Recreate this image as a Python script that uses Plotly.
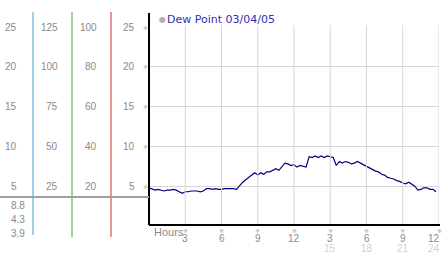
import plotly.graph_objects as go

# ---- data ----
hours = [i * 0.25 for i in range(96)]
dew_point = [
    4.8, 4.6, 4.5, 4.6, 4.5, 4.4, 4.5, 4.5, 4.6, 4.5, 4.3, 4.1,
    4.3, 4.3, 4.4, 4.4, 4.4, 4.3, 4.4, 4.7, 4.7, 4.6, 4.7, 4.6,
    4.6, 4.7, 4.7, 4.7, 4.7, 4.6, 5.1, 5.5, 5.8, 6.1, 6.4, 6.7,
    6.4, 6.7, 6.5, 6.8, 6.8, 7.0, 7.2, 7.0, 7.5, 7.9, 7.8, 7.6,
    7.7, 7.4, 7.6, 7.5, 7.4, 8.7, 8.6, 8.8, 8.6, 8.8, 8.6, 8.8,
    8.7, 8.6, 7.6, 8.1, 7.9, 8.1, 8.0, 7.8, 7.9, 8.1, 7.9, 7.7,
    7.4, 7.3, 7.1, 6.9, 6.8, 6.5, 6.4, 6.1, 6.0, 5.9, 5.7, 5.6,
    5.4, 5.3, 5.5, 5.3, 5.0, 4.5, 4.6, 4.8, 4.8, 4.6, 4.6, 4.3,
]
x_ticks = [3, 6, 9, 12, 15, 18, 21, 24]
x_tick_top = ["3", "6", "9", "12", "3", "6", "9", "12"]
x_tick_bottom = ["", "", "", "", "15", "18", "21", "24"]
y_ticks = [5, 10, 15, 20, 25]
col1_labels = ["5", "10", "15", "20", "25"]
col2_labels = ["25", "50", "75", "100", "125"]
col3_labels = ["20", "40", "60", "80", "100"]
col4_labels = ["5", "10", "15", "20", "25"]
stats_labels = ["8.8", "4.3", "3.9"]
legend_text = "Dew Point 03/04/05"

W, H = 442, 253
L, R, T, B = 149, 3, 27, 27
PW = W - L - R
PH = H - T - B

def px(xp):
    return (xp - L) / PW

def py(yp):
    return (H - B - yp) / PH

fig = go.Figure()
fig.add_trace(go.Scatter(x=hours, y=dew_point, mode="lines",
                         line=dict(color="#000080", width=1.2),
                         hoverinfo="skip", showlegend=False))

shapes = []
for xv in x_ticks:
    shapes.append(dict(type="line", xref="x", yref="paper", x0=xv, x1=xv,
                       y0=0, y1=py(25), line=dict(color="#d6d6d6", width=1)))
shapes.append(dict(type="line", xref="paper", yref="paper", x0=0, x1=0,
                   y0=py(225), y1=py(13), line=dict(color="black", width=2)))
shapes.append(dict(type="line", xref="paper", yref="paper", x0=0, x1=px(440),
                   y0=py(225), y1=py(225), line=dict(color="black", width=2)))
for xp, col, y2 in [(33, "#3aa0d0", 235), (72, "#3aa83a", 237), (111, "#c83232", 237)]:
    shapes.append(dict(type="line", xref="paper", yref="paper", x0=px(xp), x1=px(xp),
                       y0=py(y2), y1=py(12), line=dict(color=col, width=1)))
shapes.append(dict(type="line", xref="paper", yref="paper", x0=px(0), x1=px(149),
                   y0=py(197), y1=py(197), line=dict(color="#a0a0a0", width=2)))

ann = []
font_lbl = dict(family="Liberation Sans, Arial", size=10, color="#8a8a8a")
mark_font = dict(family="DejaVu Sans", size=6, color="#aaaaaa")
for i, yv in enumerate(y_ticks):
    for xr, txt in [(19, col1_labels[i]), (60, col2_labels[i]), (99, col3_labels[i]), (137, col4_labels[i])]:
        ann.append(dict(xref="paper", yref="y", x=px(xr), y=yv, text=txt, showarrow=False,
                        xanchor="right", yanchor="middle", font=font_lbl))
    ann.append(dict(xref="paper", yref="y", x=px(145), y=yv, text="※", showarrow=False,
                    xanchor="center", yanchor="middle", font=mark_font))
for j, txt in enumerate(stats_labels):
    ann.append(dict(xref="paper", yref="paper", x=px(27), y=py(205 + 14 * j), text=txt,
                    showarrow=False, xanchor="right", yanchor="middle", font=font_lbl))
for k, (xv, t1, t2) in enumerate(zip(x_ticks, x_tick_top, x_tick_bottom)):
    last = k == len(x_ticks) - 1
    ann.append(dict(xref="x", yref="paper", x=xv, y=py(230), text="※", showarrow=False,
                    xanchor="center", yanchor="middle", font=mark_font))
    ann.append(dict(xref="x", yref="paper", x=xv, y=py(238), text=t1, showarrow=False,
                    xanchor="right" if last else "center", xshift=3 if last else 0,
                    yanchor="middle", font=font_lbl))
    if t2:
        ann.append(dict(xref="x", yref="paper", x=xv, y=py(248), text=t2, showarrow=False,
                        xanchor="right" if last else "center", xshift=3 if last else 0,
                        yanchor="middle",
                        font=dict(family="Liberation Sans, Arial", size=10, color="#d2d2d2")))
ann.append(dict(xref="paper", yref="paper", x=px(152), y=py(232), text="Hours", showarrow=False,
                xanchor="left", yanchor="middle",
                font=dict(family="Liberation Sans, Arial", size=11, color="#8a8a8a")))
ann.append(dict(xref="paper", yref="paper", x=px(157), y=py(20), text="●", showarrow=False,
                xanchor="left", yanchor="middle", font=dict(family="DejaVu Sans", size=8, color="#b0b0b0")))
ann.append(dict(xref="paper", yref="paper", x=px(165), y=py(20), text=legend_text, showarrow=False,
                xanchor="left", yanchor="middle",
                font=dict(family="DejaVu Sans", size=11, color="#3030b0")))

fig.update_layout(
    width=W, height=H, margin=dict(l=L, r=R, t=T, b=B),
    paper_bgcolor="white", plot_bgcolor="white",
    shapes=shapes, annotations=ann, showlegend=False,
    xaxis=dict(range=[0, 24], showgrid=False, zeroline=False, showticklabels=False,
               ticks="", showline=False, fixedrange=True),
    yaxis=dict(range=[0, 25], tickvals=y_ticks, showgrid=True, gridcolor="#d6d6d6",
               gridwidth=1, zeroline=False, showticklabels=False, ticks="", showline=False,
               fixedrange=True),
)
fig.write_html("out.html", config={"displayModeBar": False})
